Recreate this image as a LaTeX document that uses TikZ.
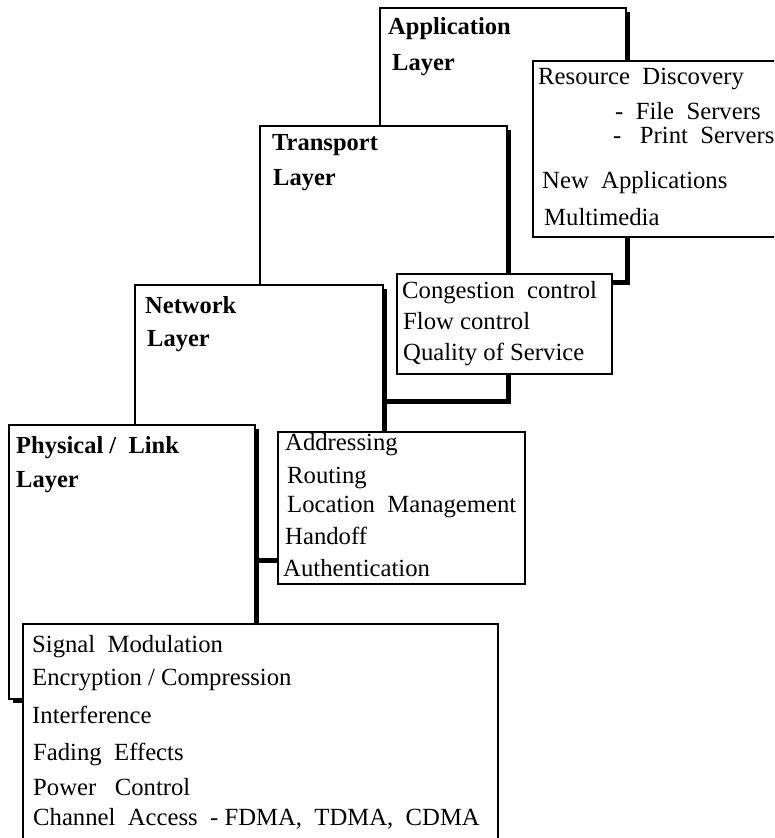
\documentclass[tikz,border=0pt]{standalone}
\usepackage{fontspec}
\setmainfont{Liberation Serif}
\usetikzlibrary{shadows}
\begin{document}
\begin{tikzpicture}[x=1pt,y=-1pt,
  layerbox/.style={draw=black, line width=1.3pt, fill=white, anchor=north west,
    inner sep=0pt, outer sep=0pt,
    drop shadow={shadow xshift=4pt, shadow yshift=-4pt, fill=black, opacity=1}},
  detailbox/.style={draw=black, line width=1.3pt, fill=white, anchor=north west,
    inner sep=0pt, outer sep=0pt},
  layertitle/.style={anchor=base west, inner sep=0pt,
    font=\fontsize{24.5}{29}\selectfont\bfseries},
  item/.style={anchor=base west, inner sep=0pt,
    font=\fontsize{24.7}{29}\selectfont}]
\clip (0,0) rectangle (774,838);
\useasboundingbox (0,0) rectangle (774,838);

% Application layer
\node[layerbox, minimum width=246pt, minimum height=273pt] (app) at (380,8) {};
\node[layertitle] (appA) at (388,34) {Application};
\node[layertitle] (appB) at (392,70) {Layer};

\node[detailbox, minimum width=260pt, minimum height=176pt] (appbox) at (533,61) {};
\node[item] (res1) at (538,84) {Resource~~Discovery};
\node[item] (res2) at (615,119) {-~~File~~Servers};
\node[item] (res3) at (613,143) {-~~~Print~~Servers};
\node[item] (res4) at (542,188) {New~~Applications};
\node[item] (res5) at (544,225) {Multimedia};

% Transport layer
\node[layerbox, minimum width=247pt, minimum height=274pt] (trn) at (260,126) {};
\node[layertitle] (trnA) at (272,150) {Transport};
\node[layertitle] (trnB) at (273,185) {Layer};

\node[detailbox, minimum width=215pt, minimum height=100pt] (trnbox) at (397,274) {};
\node[item] (con1) at (402,298) {Congestion~~control};
\node[item] (con2) at (403,329) {Flow control};
\node[item] (con3) at (403,360) {Quality of Service};

% Network layer
\node[layerbox, minimum width=248pt, minimum height=274pt] (net) at (135,285) {};
\node[layertitle] (netA) at (145,313) {Network};
\node[layertitle] (netB) at (147,346) {Layer};

\node[detailbox, minimum width=247pt, minimum height=152pt] (netbox) at (278,432) {};
\node[item] (adr1) at (285,450) {Addressing};
\node[item] (adr2) at (287,483) {Routing};
\node[item] (adr3) at (287,512) {Location~~Management};
\node[item] (adr4) at (285,544) {Handoff};
\node[item] (adr5) at (283,576) {Authentication};

% Physical / link layer
\node[layerbox, minimum width=246pt, minimum height=274pt] (phy) at (9,425) {};
\node[layertitle] (phyA) at (16,453) {Physical /~~Link};
\node[layertitle] (phyB) at (16,487) {Layer};

\node[detailbox, minimum width=475pt, minimum height=240pt] (phybox) at (23,624) {};
\node[item] (sig1) at (32,652) {Signal~~Modulation};
\node[item] (sig2) at (32,685) {Encryption / Compression};
\node[item] (sig3) at (32,723) {Interference};
\node[item] (sig4) at (33,760) {Fading~~Effects};
\node[item] (sig5) at (33,795) {Power~~~Control};
\node[item] (sig6) at (33,825) {Channel~~Access~~-~FDMA,~~TDMA,~~CDMA};
\end{tikzpicture}
\end{document}
